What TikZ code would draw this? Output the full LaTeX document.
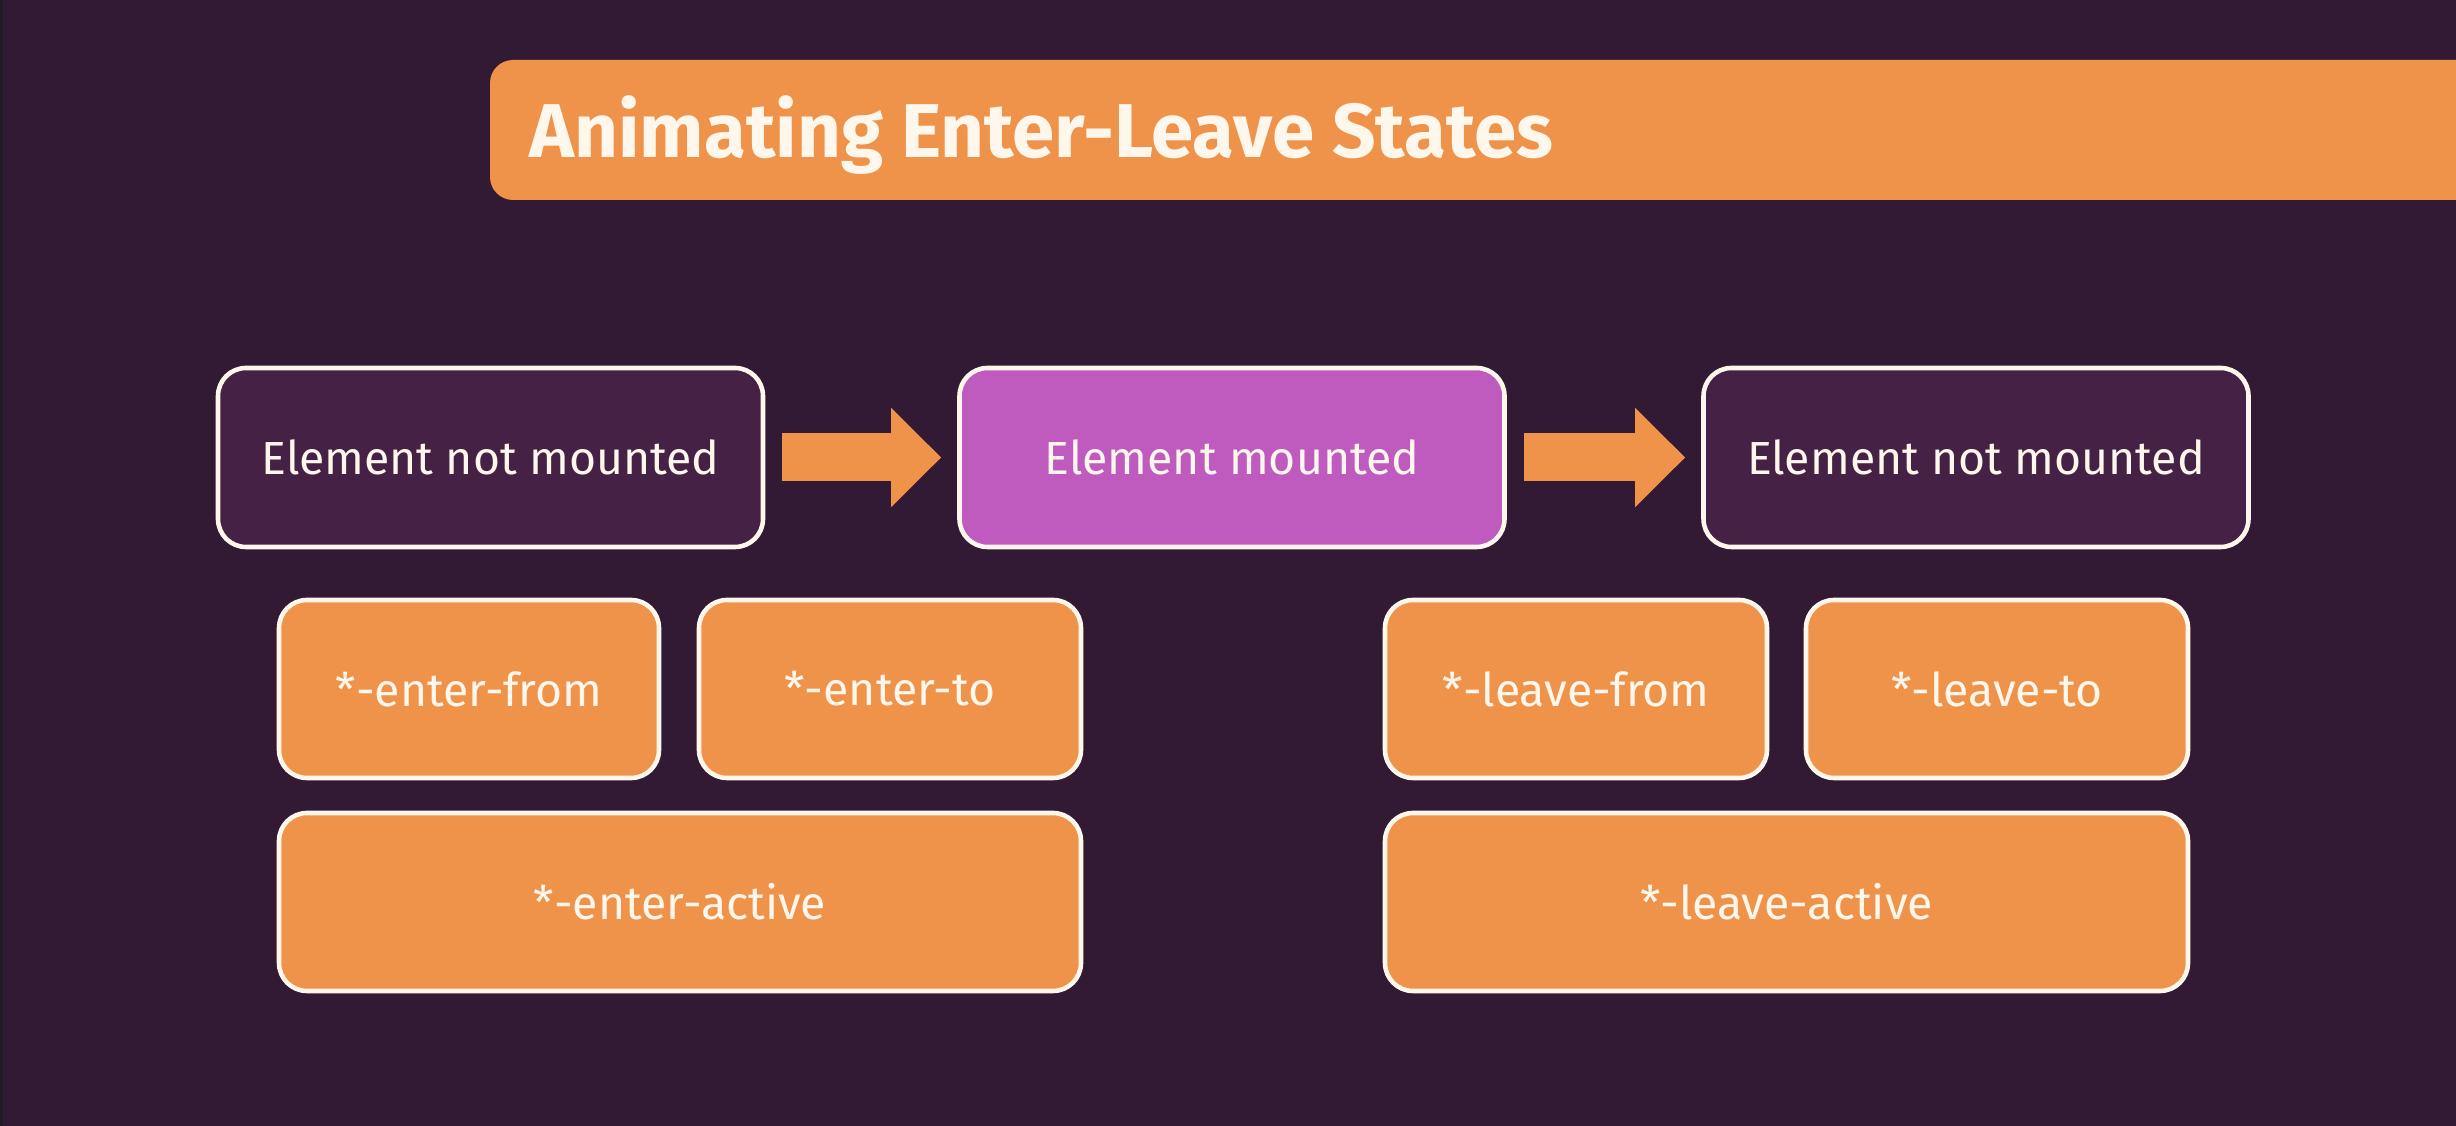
\documentclass[tikz,border=0pt]{standalone}
\usepackage{fontspec}
\setmainfont{Fira Sans}
\usetikzlibrary{arrows.meta,positioning}
\definecolor{slide}{HTML}{331A34}
\definecolor{edge}{HTML}{1E1D22}
\definecolor{plum}{HTML}{462146}
\definecolor{orchid}{HTML}{BF5BBF}
\definecolor{tangerine}{HTML}{EF934A}
\definecolor{chalk}{HTML}{FFF7EC}
\tikzset{
  every node/.style={font=\fontsize{13.2}{16}\selectfont,text=chalk},
  statebox/.style={draw=chalk,line width=1.3pt,rounded corners=0.28cm,
    minimum width=5.45cm,minimum height=1.79cm,inner sep=0pt},
  classbox/.style={draw=chalk,line width=1.3pt,rounded corners=0.28cm,fill=tangerine,
    minimum height=1.78cm,inner sep=0pt},
  fatarrow/.style={draw=tangerine,line width=0.48cm,
    -{Triangle[length=0.5cm,width=0.96cm]},shorten <=0.17cm,shorten >=0.16cm}}

\begin{document}
\begin{tikzpicture}
\path[use as bounding box] (0,0) rectangle (24.56,11.26);
\fill[slide] (0,0) rectangle (24.56,11.26);
\fill[edge] (0,0) rectangle (0.03,11.26);
% title bar runs off the right edge of the slide
\fill[tangerine,rounded corners=0.23cm] (4.90,9.26) rectangle (25.2,10.66);
\node[anchor=base west,font=\fontsize{21.7}{24}\selectfont\bfseries] (title) at (5.17,9.68) {Animating Enter-Leave States};
% states
\node[statebox,fill=plum] (before) at (4.905,6.685) {Element not mounted};
\node[statebox,fill=orchid] (mounted) at (12.32,6.685) {Element mounted};
\node[statebox,fill=plum] (after) at (19.76,6.685) {Element not mounted};
\draw[fatarrow] (before) -- (mounted);
\draw[fatarrow] (mounted) -- (after);
% transition classes
\node[classbox,minimum width=3.80cm] (enterfrom) at (4.69,4.37) {*-enter-from};
\node[classbox,minimum width=3.82cm] (enterto) at (8.90,4.37) {*-enter-to};
\node[classbox,minimum width=8.02cm] (enteractive) at (6.80,2.24) {*-enter-active};
\node[classbox,minimum width=3.82cm] (leavefrom) at (15.76,4.37) {*-leave-from};
\node[classbox,minimum width=3.82cm] (leaveto) at (19.97,4.37) {*-leave-to};
\node[classbox,minimum width=8.03cm] (leaveactive) at (17.865,2.24) {*-leave-active};
\end{tikzpicture}
\end{document}
